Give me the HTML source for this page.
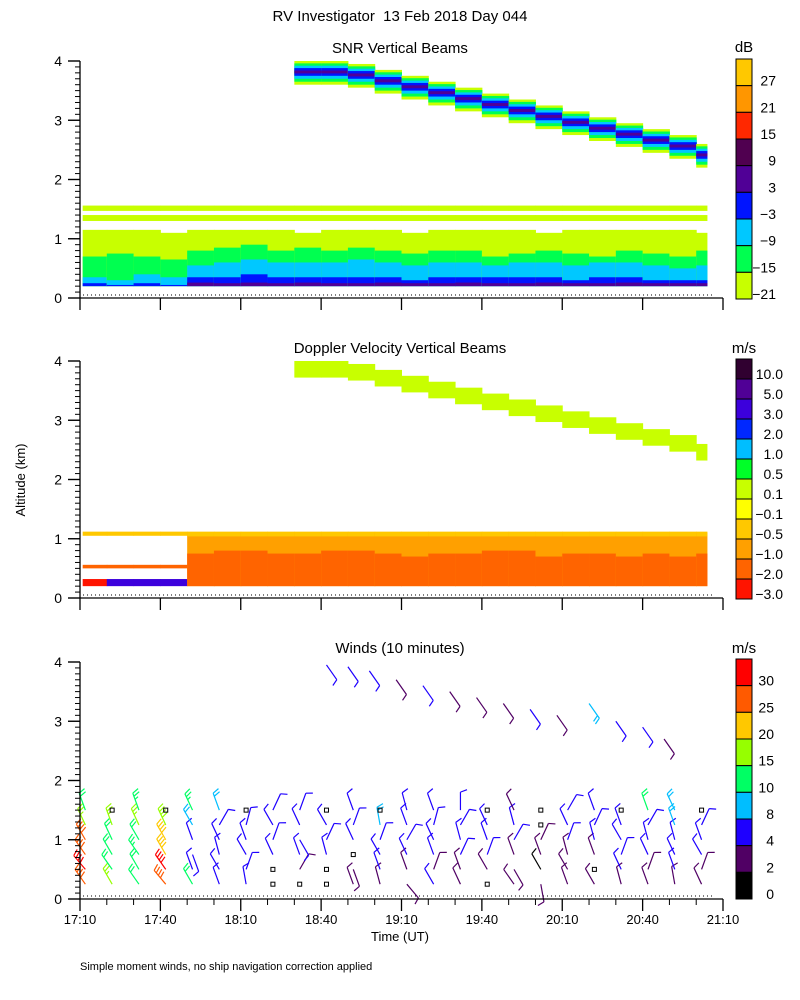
<!DOCTYPE html>
<html><head><meta charset="utf-8"><style>
html,body{margin:0;padding:0;background:#fff}
svg{display:block;font-family:"Liberation Sans",sans-serif}
</style></head><body>
<svg id="chart" width="800" height="1000" viewBox="0 0 800 1000" xmlns="http://www.w3.org/2000/svg">
<text x="400" y="21" text-anchor="middle" font-size="15" style="white-space:pre">RV Investigator  13 Feb 2018 Day 044</text>
<text x="400" y="53" text-anchor="middle" font-size="15">SNR Vertical Beams</text>
<text x="400" y="353" text-anchor="middle" font-size="15">Doppler Velocity Vertical Beams</text>
<text x="400" y="653" text-anchor="middle" font-size="15">Winds (10 minutes)</text>
<text transform="translate(25,480) rotate(-90)" text-anchor="middle" font-size="13">Altitude (km)</text>
<text x="400" y="941" text-anchor="middle" font-size="13">Time (UT)</text>
<text x="80" y="970" font-size="11">Simple moment winds, no ship navigation correction applied</text>
<text x="744" y="52" text-anchor="middle" font-size="15">dB</text>
<text x="744" y="353" text-anchor="middle" font-size="15">m/s</text>
<text x="744" y="653" text-anchor="middle" font-size="15">m/s</text>
<g id="layers"></g>
</svg>
<script>
// ---- data ----
const snrYGTop   =[1.15,1.15,1.15,1.1,1.15,1.15,1.15,1.15,1.1,1.15,1.15,1.15,1.1,1.15,1.15,1.15,1.15,1.1,1.15,1.15,1.15,1.15,1.15,1.1];
const snrGreenTop=[0.7,0.75,0.7,0.65,0.8,0.85,0.9,0.8,0.85,0.8,0.85,0.8,0.75,0.8,0.8,0.7,0.75,0.8,0.75,0.7,0.8,0.75,0.7,0.8];
const snrCyanTop =[0.35,0.3,0.4,0.35,0.55,0.6,0.65,0.6,0.6,0.6,0.65,0.6,0.55,0.6,0.6,0.55,0.6,0.6,0.55,0.6,0.6,0.55,0.5,0.55];
const snrBlueTop =[0.25,0.22,0.25,0.22,0.35,0.35,0.4,0.35,0.35,0.35,0.35,0.35,0.3,0.35,0.35,0.35,0.35,0.35,0.3,0.35,0.35,0.3,0.3,0.3];
const snrPurpTop =[0,0,0,0,0.26,0.25,0.26,0.25,0.26,0.25,0.25,0.26,0.25,0.25,0.26,0.25,0.25,0.26,0.25,0.25,0.26,0.25,0.25,0.25];
const cloudTop   =[null,null,null,null,null,null,null,null,4.0,4.0,3.95,3.85,3.75,3.65,3.55,3.45,3.35,3.25,3.15,3.05,2.95,2.85,2.75,2.6];
const dopLowTop  =[0.8,0.8,0.8,0.85,1.1,1.1,1.1,1.1,1.1,1.1,1.1,1.1,1.1,1.1,1.1,1.1,1.1,1.1,1.1,1.1,1.1,1.1,1.1,1.1];
const dopOrangeTop=[0,0,0,0,0.75,0.8,0.8,0.75,0.75,0.8,0.8,0.75,0.7,0.75,0.75,0.8,0.8,0.7,0.75,0.75,0.7,0.75,0.7,0.75];
const snrTicks=["27","21","15","9","3","\u22123","\u22129","\u221215","\u221221"];
const dopTicks=["10.0","5.0","3.0","2.0","1.0","0.5","0.1","\u22120.1","\u22120.5","\u22121.0","\u22122.0","\u22123.0"];
const windTicks=["30","25","20","15","10","8","4","2","0"];
const timeLabels=["17:10","17:40","18:10","18:40","19:10","19:40","20:10","20:40","21:10"];
const windHeights=[0.25,0.5,0.75,1.0,1.25,1.5];
const windSpeed=[
[25,30,28,25,15,12],[15,12,10,12,15,null],[12,10,14,12,15,14],[28,30,22,20,18,null],
[12,6,5,7,8,14],[5,4,6,5,6,8],[4,5,6,5,4,null],[null,null,5,4,5,5],
[null,3,4,5,6,4],[null,null,4,5,6,null],[3,2,null,4,5,4],[2,4,6,5,8,null],
[3,2,5,6,5,4],[4,3,4,6,5,4],[2,3,6,5,6,4],[null,3,4,5,4,null],
[3,2,3,4,5,3],[2,1,2,3,null,null],[3,2,3,4,4,4],[2,null,3,4,5,6],
[3,4,4,5,6,null],[2,3,4,5,4,10],[3,4,5,6,8,9],[2,3,4,5,4,null]];
const windDir=[
[-35,-40,-35,-30,-25,-20],[-30,-35,-30,-25,-20,0],[-35,-30,-35,-30,-25,-20],[-40,-35,-30,-30,-25,0],
[-30,-20,160,-20,-30,-25],[-20,-30,-15,-25,30,-20],[-10,20,-30,-20,15,0],[0,0,-25,20,-30,25],
[0,30,-20,150,-25,20],[0,0,-15,25,-30,0],[-20,160,0,-25,20,-20],[-15,-20,-30,20,-10,0],
[140,-20,-25,30,-20,-15],[-30,20,-20,-25,15,-20],[-25,-20,25,-15,30,0],[0,-30,20,-20,-25,0],
[-35,150,-20,30,-15,-25],[170,-30,-20,25,0,0],[-20,-30,-15,20,-25,30],[-30,0,-20,-15,25,-20],
[-15,-25,20,-30,-20,0],[-20,20,-25,-15,30,-20],[-10,-20,-25,-15,-20,-25],[-25,20,-30,-20,25,0]];
const upperMin=[92,100,108,118,128,138,148,158,168,178,190,200,210,218];
const upperHt =[3.95,3.92,3.85,3.7,3.6,3.5,3.4,3.3,3.2,3.1,3.3,3.0,2.9,2.7];
const upperSpd=[6,5,4,3,4,3,2,3,4,3,9,5,4,3];
// ---- scales ----
const X0=80,X1=723;
function xOf(m){return X0+m*(X1-X0)/240;}
function yOf(base,km){return base-km*237/4;}
const bases=[298,598,899];
const NS="http://www.w3.org/2000/svg";
const root=document.getElementById('layers');
function el(tag,attrs,parent){const e=document.createElementNS(NS,tag);for(const k in attrs)e.setAttribute(k,attrs[k]);(parent||root).appendChild(e);return e;}
function band(g,base,i,lo,hi,col){
  if(hi<=lo)return;hi=Math.min(hi,4);
  const x0=xOf(Math.max(i*10,1)),x1=xOf(Math.min(i*10+10,234));
  const r=el('rect',{x:x0,y:yOf(base,hi),width:x1-x0+0.5,height:yOf(base,lo)-yOf(base,hi),fill:col},g);
  
  
}
// SNR panel
const g1=el('g',{});


for(let i=0;i<24;i++){
  const b=bases[0];
  band(g1,b,i,0.2,snrYGTop[i],'#c8ff00');
  band(g1,b,i,0.2,snrGreenTop[i],'#00ff50');
  band(g1,b,i,0.2,snrCyanTop[i],'#00c8ff');
  band(g1,b,i,0.2,snrBlueTop[i],'#0014ff');
  band(g1,b,i,0.2,snrPurpTop[i],'#500096');
  band(g1,b,i,1.3,1.4,'#c8ff00');
  band(g1,b,i,1.47,1.56,'#c8ff00');
  const t=cloudTop[i];
  if(t!==null){
    band(g1,b,i,t-0.4,t,'#c8ff00');
    band(g1,b,i,t-0.35,t-0.04,'#00ff50');
    band(g1,b,i,t-0.3,t-0.08,'#00c8ff');
    band(g1,b,i,t-0.25,t-0.12,'#0014ff');
    band(g1,b,i,t-0.21,t-0.16,'#500096');
  }
}
// Doppler panel
const g2=el('g',{});


for(let i=0;i<24;i++){
  const b=bases[1];
  if(i<4){
    band(g2,b,i,1.05,1.12,'#ffc800');
    band(g2,b,i,0.2,0.32,i===0?'#ff1400':'#3c00dc');
    band(g2,b,i,0.5,0.56,'#ff6400');
  } else {
    band(g2,b,i,0.2,dopLowTop[i],'#ffa000');
    band(g2,b,i,0.2,dopOrangeTop[i],'#ff6400');
    band(g2,b,i,1.04,1.12,'#ffc800');
  }
  const t=cloudTop[i];
  if(t!==null)band(g2,b,i,t-0.28,t,'#c8ff00');
}
// Winds
const spdEdges=[2,4,8,10,15,20,25,30];
const spdCols=['#000000','#500064','#1e00ff','#00beff','#00ff64','#96ff00','#ffc800','#ff5a00','#ff0000'];
function spdColor(s){let k=0;while(k<spdEdges.length&&s>=spdEdges[k])k++;return spdCols[k];}
const g3=el('g',{});


function barb(m,h,s,d){
  const x=xOf(m),y=yOf(bases[2],h);
  if(s===null){
    const q=el('rect',{x:x-2,y:y-2,width:4,height:4,fill:'none',stroke:'#000','stroke-width':1},g3);
    
    
    return;
  }
  const a=d*Math.PI/180,L=18,c=spdColor(s);
  const ex=x+L*Math.sin(a),ey=y-L*Math.cos(a);
  const p=el('g',{stroke:c,'stroke-width':1.2,fill:'none'},g3);
  
  
  el('line',{x1:x,y1:y,x2:ex,y2:ey},p);
  let n=Math.max(1,Math.round(s/5));
  for(let k=0;k<Math.min(n,4);k++){
    const f=1-k*0.18, bx=x+(ex-x)*f, by=y+(ey-y)*f, len=(k===n-1&&n%2===1&&n>1)?4:7;
    const fa=a+Math.PI/2.6;
    el('line',{x1:bx,y1:by,x2:bx+len*Math.sin(fa),y2:by-len*Math.cos(fa)},p);
  }
}
for(let c=0;c<24;c++){
  for(let h=0;h<windHeights.length;h++){
    barb(2+c*10,windHeights[h],windSpeed[c][h],windDir[c][h]);
  }
}
for(let i=0;i<upperMin.length;i++)barb(upperMin[i],upperHt[i],upperSpd[i],145);
// axes
for(let p=0;p<3;p++){
  const b=bases[p],g=el('g',{stroke:'#000','stroke-width':1.3});
  
  
  el('line',{x1:X0,y1:b,x2:X0,y2:yOf(b,4)},g);
  el('line',{x1:X0,y1:b,x2:X1,y2:b},g);
  el('line',{x1:X0+3,y1:b-3,x2:X1-10,y2:b-3,'stroke-dasharray':'1,3','stroke-width':1},g);
  for(let k=0;k<=40;k++){const y=yOf(b,k/10);el('line',{x1:k%10===0?X0-12:X0-5,y1:y,x2:X0,y2:y,'stroke-width':k%10===0?1.4:1},g);}
  for(let k=0;k<=24;k++){const x=xOf(k*10);
    if(k%3===0)el('line',{x1:x,y1:b,x2:x,y2:b+12},g);
    else if(p===2)el('line',{x1:x,y1:b,x2:x,y2:b+6,'stroke-width':1},g);}
  for(let k=0;k<=4;k++){
    const t=el('text',{x:62,y:yOf(b,k)+5,'text-anchor':'end','font-size':14,stroke:'none',fill:'#000'});
    t.textContent=k;
    
    
  }
}
timeLabels.forEach((s,i)=>{
  const t=el('text',{x:xOf(i*30),y:924,'text-anchor':'middle','font-size':13});
  t.textContent=s;
  
  
});
// colorbars
function colorbar(top,bot,cols,ticks,rx,name){
  const g=el('g',{});
  
  
  const h=(bot-top)/cols.length;
  cols.forEach((c,i)=>{
    const r=el('rect',{x:736,y:top+i*h,width:16,height:h,fill:c,stroke:'#000','stroke-width':1},g);
    
    
    const t=el('text',{x:rx,y:top+(i+1)*h-0,'text-anchor':'end','font-size':14},g);
    t.textContent=ticks[i];
    
    
  });
}
colorbar(59,299,['#ffc800','#ff9600','#ff2800','#500050','#500096','#0014ff','#00c8ff','#00ff50','#c8ff00'],snrTicks,776,'snr-colorbar');
colorbar(359,599,['#300030','#500096','#3c00dc','#0028ff','#00beff','#00ff28','#c8ff00','#ffff00','#ffc800','#ffa000','#ff6400','#ff1400'],dopTicks,783,'doppler-colorbar');
colorbar(659,899,['#ff0000','#ff5a00','#ffc800','#96ff00','#00ff64','#00beff','#1e00ff','#500064','#000000'],windTicks,774,'winds-colorbar');
</script>
</body></html>
